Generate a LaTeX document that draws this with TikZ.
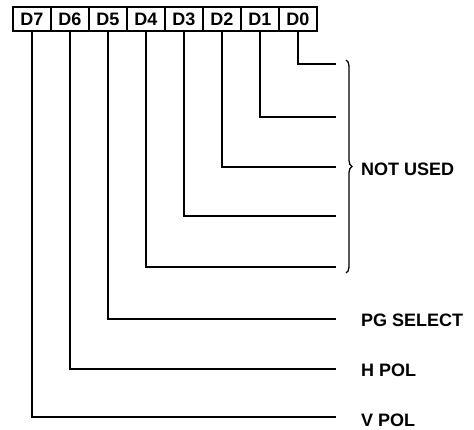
\documentclass[tikz,border=0pt]{standalone}
\usepackage{fontspec}
\setmainfont{Liberation Sans}
\usetikzlibrary{decorations.pathreplacing}
\begin{document}
\begin{tikzpicture}[x=1pt,y=-1pt,
  bitbox/.style={draw,line width=2pt,minimum width=38pt,minimum height=24pt,inner sep=0pt,font=\bfseries\fontsize{18}{18}\selectfont},
  wire/.style={line width=1.7pt},
  lbl/.style={anchor=west,inner sep=0pt,font=\bfseries\fontsize{18}{18}\selectfont}]
\useasboundingbox (0,0) rectangle (474,430);
\foreach \i/\b in {0/7,1/6,2/5,3/4,4/3,5/2,6/1,7/0}{
  \node[bitbox] (d\b) at ({32+38*\i},19) {D\b};
}
\foreach \b/\y in {0/64,1/117,2/167,3/216,4/267,5/319,6/369,7/417}{
  \coordinate (e\b) at (336,\y);
  \draw[wire] (d\b.south) |- (e\b);
}
\draw[line width=1.3pt,decorate,decoration={brace,amplitude=6pt}] (346,60) -- (346,273);
\node[lbl] (nu) at (361,169) {NOT USED};
\node[lbl] (pg) at (361,320) {PG SELECT};
\node[lbl] (hp) at (361,370) {H POL};
\node[lbl] (vp) at (361,420) {V POL};
\end{tikzpicture}
\end{document}
